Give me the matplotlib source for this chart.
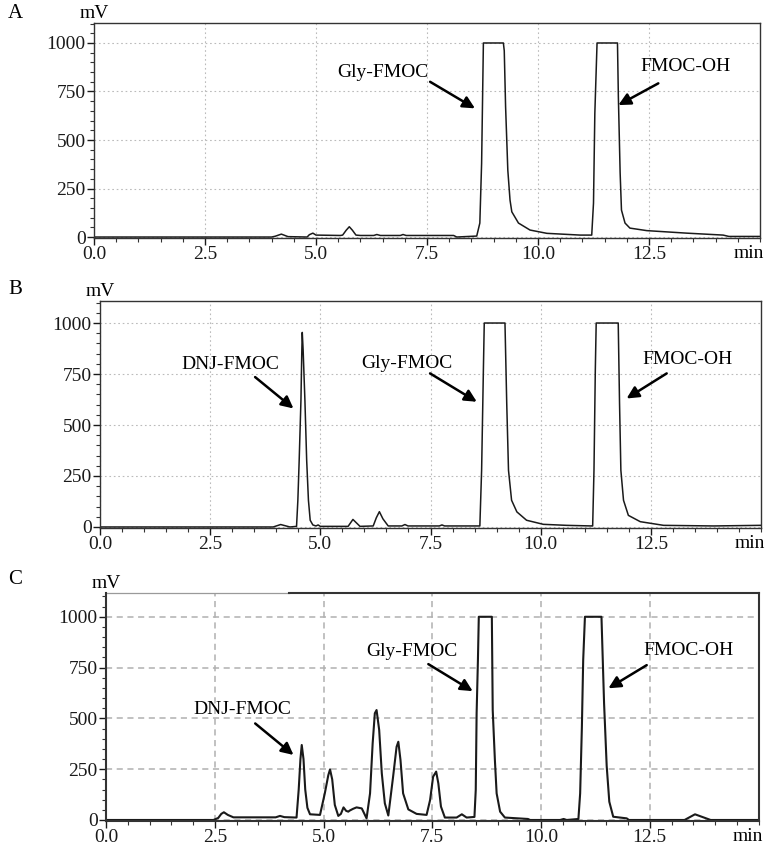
import matplotlib.pyplot as plt
from matplotlib.ticker import MultipleLocator, FormatStrFormatter

plt.rcParams["font.family"] = ["Liberation Serif", "DejaVu Serif"]
plt.rcParams["font.size"] = 14

# ---------- traces (time in min, signal in mV) ----------

a_time = [0.0, 4.0, 4.08, 4.22, 4.37, 4.8, 4.85, 4.93, 5.0, 5.55, 5.6, 5.68, 5.75,
          5.82, 5.9, 6.0, 6.3, 6.37, 6.45, 6.9, 6.96, 7.03, 8.1, 8.17, 8.62, 8.69,
          8.73, 8.77, 9.22, 9.24, 9.27, 9.32, 9.37, 9.41, 9.56, 9.82, 10.2, 10.95,
          11.21, 11.25, 11.28, 11.33, 11.79, 11.81, 11.85, 11.88, 11.96, 12.07,
          12.45, 13.35, 14.17, 14.3, 15.0]
a_mv = [0, 0, 4, 15, 2, 0, 12, 20, 10, 8, 10, 35, 53,
        35, 10, 8, 8, 13, 8, 8, 13, 8, 8, 0, 5, 72,
        380, 1000, 1000, 960, 672, 345, 190, 130, 72, 36, 19, 10,
        10, 175, 637, 1000, 1000, 723, 330, 139, 72, 46,
        33, 20, 10, 3, 3]

b_time = [0.0, 3.93, 4.1, 4.31, 4.46, 4.49, 4.52, 4.56, 4.58, 4.59, 4.61, 4.65,
          4.69, 4.73, 4.77, 4.83, 4.9, 4.95, 5.0, 5.63, 5.74, 5.9, 6.2, 6.27,
          6.34, 6.42, 6.54, 6.85, 6.92, 6.99, 7.7, 7.76, 7.82, 8.62, 8.66, 8.7,
          8.72, 9.19, 9.23, 9.27, 9.34, 9.46, 9.68, 10.06, 10.59, 11.16, 11.18,
          11.21, 11.24, 11.26, 11.76, 11.79, 11.82, 11.88, 11.99, 12.26, 12.79,
          13.92, 14.98, 15.0]
b_mv = [0, 0, 12, 0, 3, 131, 327, 621, 866, 954, 866, 621,
        327, 131, 33, 10, 5, 10, 3, 3, 37, 3, 5, 45,
        75, 40, 5, 5, 12, 5, 5, 10, 5, 5, 279, 769,
        1000, 1000, 605, 278, 131, 74, 33, 13, 8, 5, 5,
        279, 769, 1000, 1000, 605, 278, 131, 57, 26, 8,
        5, 8, 8]

c_time = [0.0, 2.47, 2.58, 2.65, 2.71, 2.8, 2.93, 3.9, 4.0, 4.1, 4.38, 4.43,
          4.47, 4.5, 4.54, 4.58, 4.63, 4.69, 4.92, 5.03, 5.11, 5.15, 5.2, 5.26,
          5.34, 5.4, 5.46, 5.52, 5.57, 5.6, 5.68, 5.76, 5.88, 5.99, 6.07, 6.13,
          6.18, 6.22, 6.28, 6.34, 6.41, 6.49, 6.6, 6.68, 6.72, 6.77, 6.83, 6.95,
          7.14, 7.37, 7.45, 7.52, 7.59, 7.64, 7.7, 7.79, 8.06, 8.18, 8.29, 8.47,
          8.5, 8.52, 8.55, 8.57, 8.87, 8.89, 8.94, 8.98, 9.06, 9.17, 9.7, 9.75,
          10.44, 10.52, 10.59, 10.86, 10.9, 10.94, 10.97, 11.01, 11.39, 11.42,
          11.45, 11.51, 11.57, 11.66, 11.97, 12.02, 13.3, 13.54, 13.9, 15.0]
c_mv = [0, 0, 10, 30, 38, 25, 13, 13, 20, 14, 12, 150,
        300, 369, 300, 150, 60, 28, 25, 131, 220, 249, 200, 74,
        20, 30, 62, 45, 41, 46, 55, 62, 57, 8, 131, 377,
        525, 541, 443, 230, 82, 22, 213, 360, 385, 295, 131, 52,
        30, 25, 98, 213, 238, 180, 66, 12, 12, 28, 12, 15,
        148, 525, 787, 1000, 1000, 541, 295, 131, 41, 12, 5, 0,
        0, 5, 0, 5, 131, 459, 787, 1000, 1000, 787,
        574, 266, 90, 16, 8, 0, 0, 28, 0, 0]

x_ticks = [0.0, 2.5, 5.0, 7.5, 10.0, 12.5]
y_ticks = [0, 250, 500, 750, 1000]

# ---------- peak labels: (text, text_t, text_mV, tip_t, tip_mV, tail_t, tail_mV) ----------

a_labels = [("Gly-FMOC", 6.5, 850, 8.58, 663, 7.57, 800),
            ("FMOC-OH", 13.33, 878, 11.81, 680, 12.71, 792)]
b_labels = [("DNJ-FMOC", 2.95, 797, 4.39, 581, 3.52, 735),
            ("Gly-FMOC", 6.96, 802, 8.55, 614, 7.49, 753),
            ("FMOC-OH", 13.33, 822, 11.95, 630, 12.86, 753)]
c_labels = [("DNJ-FMOC", 3.14, 546, 4.31, 320, 3.43, 475),
            ("Gly-FMOC", 7.03, 828, 8.43, 634, 7.41, 767),
            ("FMOC-OH", 13.4, 833, 11.55, 648, 12.43, 762)]

W, H = 776, 848
fig = plt.figure(figsize=(W / 100, H / 100), dpi=100)


def px_axes(left, right, top, bottom):
    return fig.add_axes([left / W, 1 - bottom / H, (right - left) / W, (bottom - top) / H])


def draw_panel(ax, t, mv, labels, ymax, letter, letter_y, grid_style, heavy=False):
    spine_w = 1.5 if heavy else 1.0
    ax.plot(t, mv, color="#1a1a1a", lw=1.5 if heavy else 1.1)
    ax.set_xlim(0, 15)
    ax.set_ylim(-5, ymax)
    ax.set_xticks(x_ticks)
    ax.xaxis.set_minor_locator(MultipleLocator(0.5))
    ax.xaxis.set_major_formatter(FormatStrFormatter("%.1f"))
    ax.set_yticks(y_ticks)
    ax.yaxis.set_minor_locator(MultipleLocator(50))
    ax.tick_params(which="major", length=5, width=1, pad=1, labelsize=14,
                   colors="#1a1a1a")
    ax.tick_params(which="minor", length=3, width=0.8, colors="#333333")
    for s in ax.spines.values():
        s.set_linewidth(spine_w)
        s.set_color("#333333")
    ax.grid(True, which="major", **grid_style)
    ax.set_axisbelow(True)
    for text, tx, ty, hx, hy, sx, sy in labels:
        ax.text(tx, ty, text, ha="center", va="center", fontsize=14)
        ax.annotate("", xy=(hx, hy), xytext=(sx, sy),
                    arrowprops=dict(arrowstyle="-|>", color="black", lw=1.8,
                                    mutation_scale=18, shrinkA=0, shrinkB=0))
    ax.annotate("min", xy=(1, 0), xycoords="axes fraction", xytext=(3, -5),
                textcoords="offset points", ha="right", va="top", fontsize=14)
    ax.annotate("mV", xy=(0, 1), xycoords="axes fraction", xytext=(0, 1),
                textcoords="offset points", ha="center", va="bottom", fontsize=14)
    fig.text(8 / W, 1 - letter_y / H, letter, fontsize=15, ha="left", va="center")


dotted = dict(color="#bbbbbb", lw=0.8, linestyle=(0, (1.5, 2.5)))
dashed = dict(color="#b0b0b0", lw=1.1, linestyle=(0, (4, 3)))

ax_a = px_axes(94, 760, 23, 238)
draw_panel(ax_a, a_time, a_mv, a_labels, 1103, "A", 14, dotted)

ax_b = px_axes(100, 761, 301, 528)
draw_panel(ax_b, b_time, b_mv, b_labels, 1108, "B", 290, dotted)

ax_c = px_axes(106, 758.5, 593, 821)
draw_panel(ax_c, c_time, c_mv, c_labels, 1117, "C", 580, dashed, heavy=True)
# top border of panel C is faint over its left part
ax_c.spines["top"].set_visible(False)
ax_c.plot([0, 0.28], [1, 1], transform=ax_c.transAxes, color="#9a9a9a", lw=0.9,
          clip_on=False)
ax_c.plot([0.28, 1], [1, 1], transform=ax_c.transAxes, color="#333333", lw=1.5,
          clip_on=False)

fig.savefig("out.png", dpi=100)
